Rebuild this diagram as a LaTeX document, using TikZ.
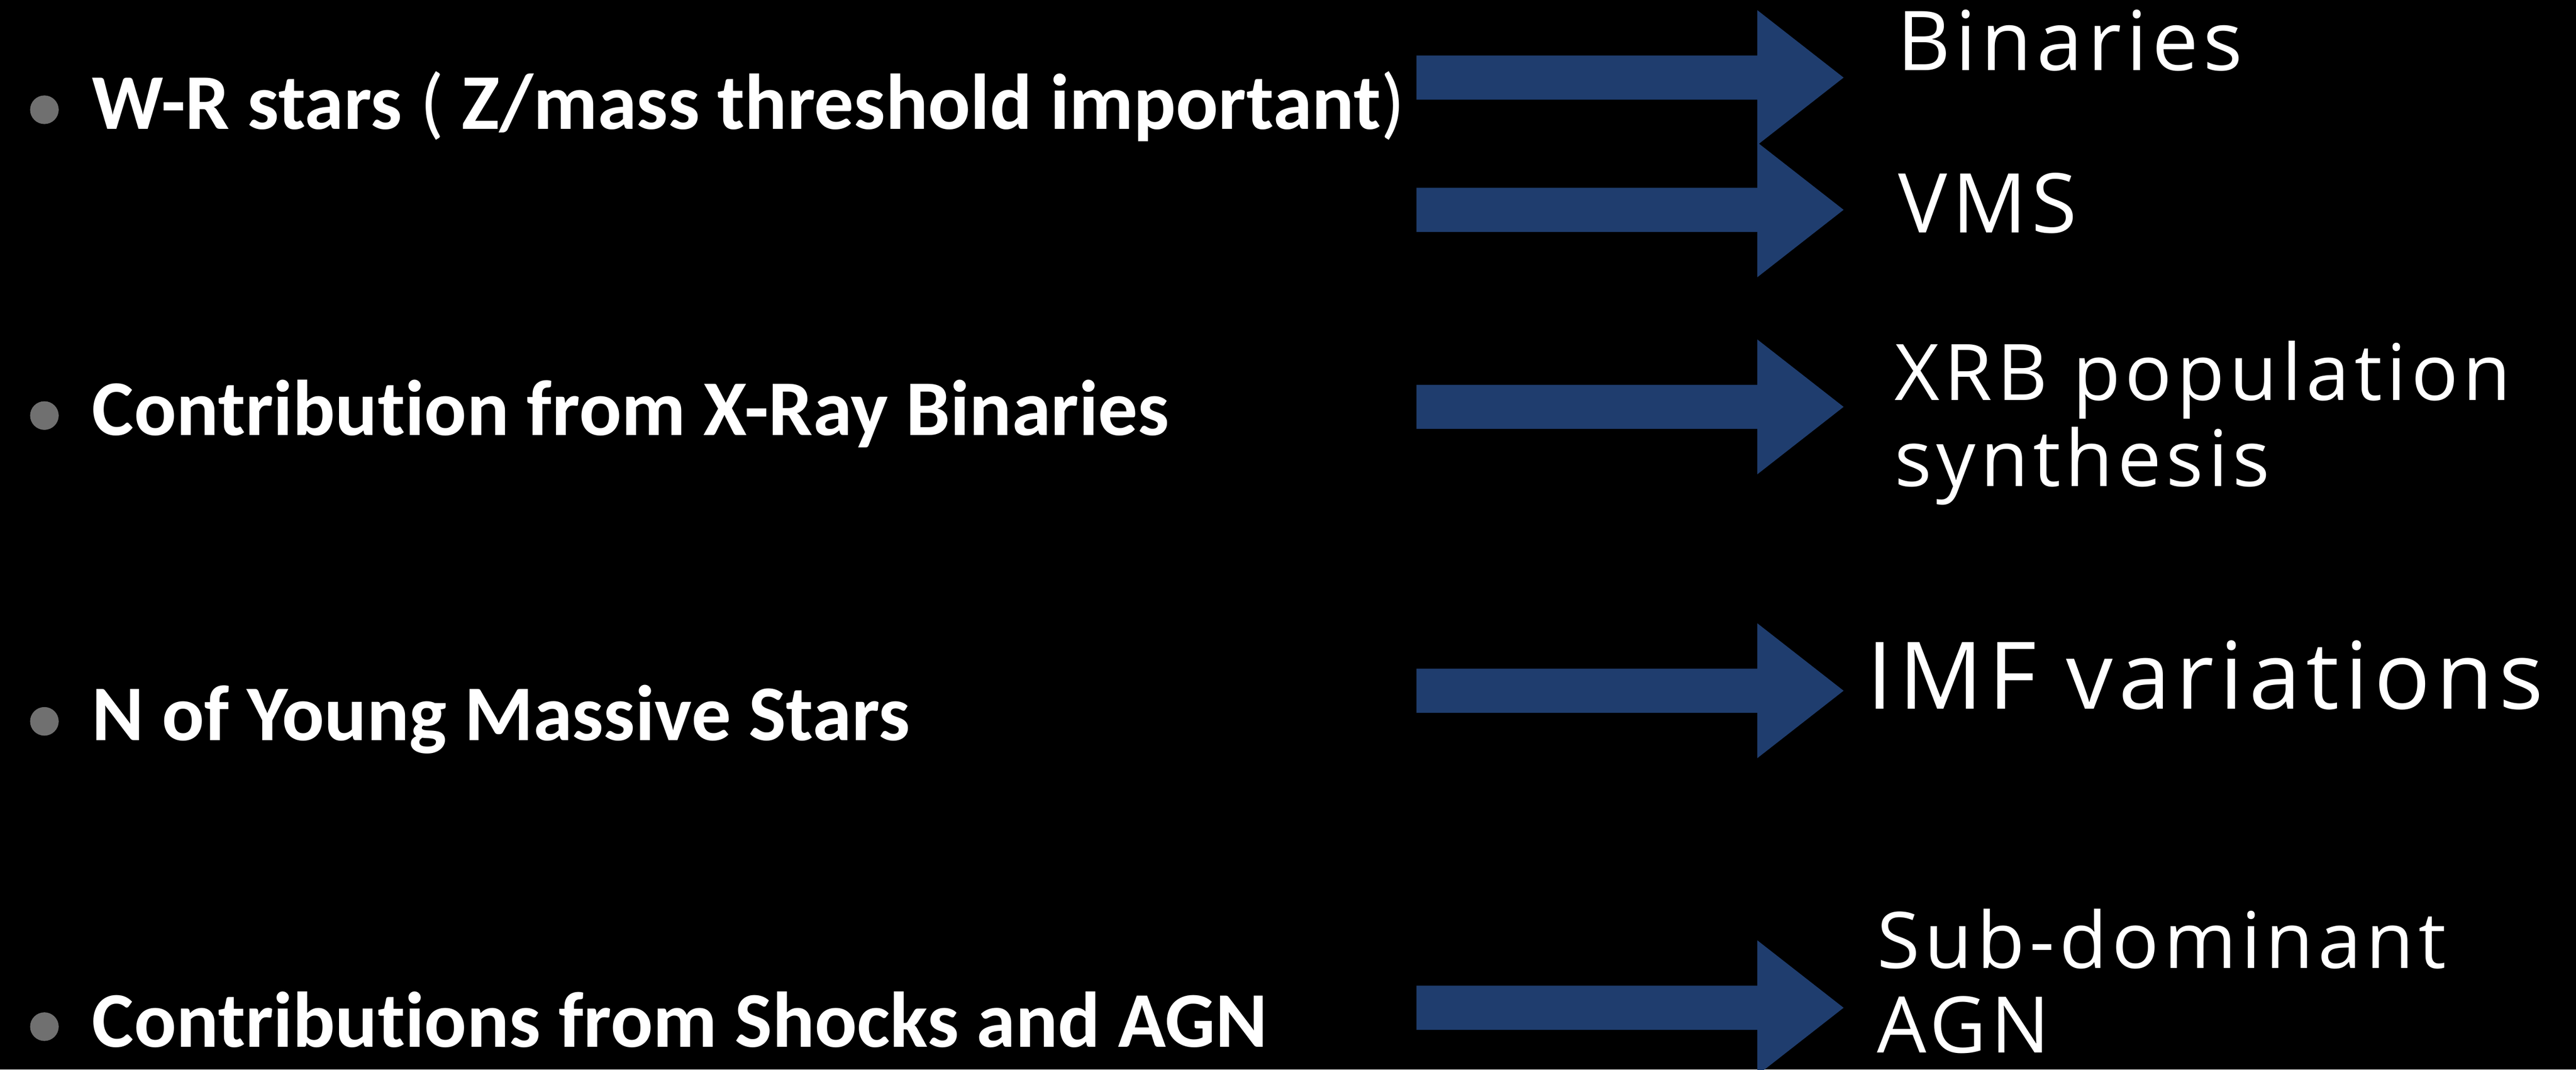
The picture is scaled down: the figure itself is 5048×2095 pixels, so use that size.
\documentclass[tikz,border=0pt]{standalone}
\usepackage{fontspec}
\usepackage{tikz}
\usetikzlibrary{shapes,arrows}
\newfontfamily\slidefont{Carlito}[Ligatures={NoCommon,NoContextual}]
\newfontfamily\chalkfont{Open Sans}[LetterSpace=6]
\definecolor{arrowblue}{HTML}{1F3D6E}
\definecolor{bulletgray}{HTML}{707070}
\tikzstyle{item} = [anchor=base west, inner sep=0pt, text=white,
    font=\slidefont\bfseries\fontsize{44}{50}\selectfont]
\tikzstyle{dot} = [circle, fill=bulletgray, minimum size=5.6mm, inner sep=0pt]
\tikzstyle{fatarrow} = [single arrow, fill=arrowblue, anchor=tail,
    minimum height=83.7mm, inner xsep=0pt, inner ysep=4.25mm,
    single arrow head extend=8.9mm, single arrow tip angle=76]
\tikzstyle{note} = [anchor=base west, inner sep=0pt, text=white, align=left,
    font=\chalkfont\fontsize{46}{48}\selectfont]

\begin{document}
\begin{tikzpicture}[x=0.1mm, y=-0.1mm]
      \fill [black] (0,0) rectangle (5048,2095);
      \useasboundingbox (0,0) rectangle (5048,2095);

      \node [dot] (dotwr) at (87,215) {};
      \node [item] (wr) at (180,253)
         {W-R stars {\mdseries(} Z/mass threshold important{\mdseries)}};
      \node [dot] (dotxrb) at (87,814) {};
      \node [item] (xrb) at (180,853) {Contribution from X-Ray Binaries};
      \node [dot] (dotyms) at (87,1413) {};
      \node [item] (yms) at (180,1450) {N of Young Massive Stars};
      \node [dot] (dotagn) at (87,2011) {};
      \node [item] (agn) at (180,2051) {Contributions from Shocks and AGN};

      \node [fatarrow] (tobin) at (2775,152) {};
      \node [fatarrow] (tovms) at (2775,411) {};
      \node [fatarrow] (topop) at (2775,797) {};
      \node [fatarrow] (toimf) at (2775,1353) {};
      \node [fatarrow] (tosub) at (2775,1974) {};

      \node [note] (bin) at (3717,138) {Binaries};
      \node [note] (vms) at (3719,456) {VMS};
      \node [note, font=\chalkfont\fontsize{43.5}{48}\selectfont] (pop) at (3712,953)
         {XRB population\\synthesis};
      \node [note, font=\chalkfont\fontsize{52}{54}\selectfont] (imf) at (3658,1389)
         {IMF variations};
      \node [note, font=\chalkfont\fontsize{43.5}{47}\selectfont] (sub) at (3678,2062)
         {Sub-dominant\\AGN};
\end{tikzpicture}
\end{document}
